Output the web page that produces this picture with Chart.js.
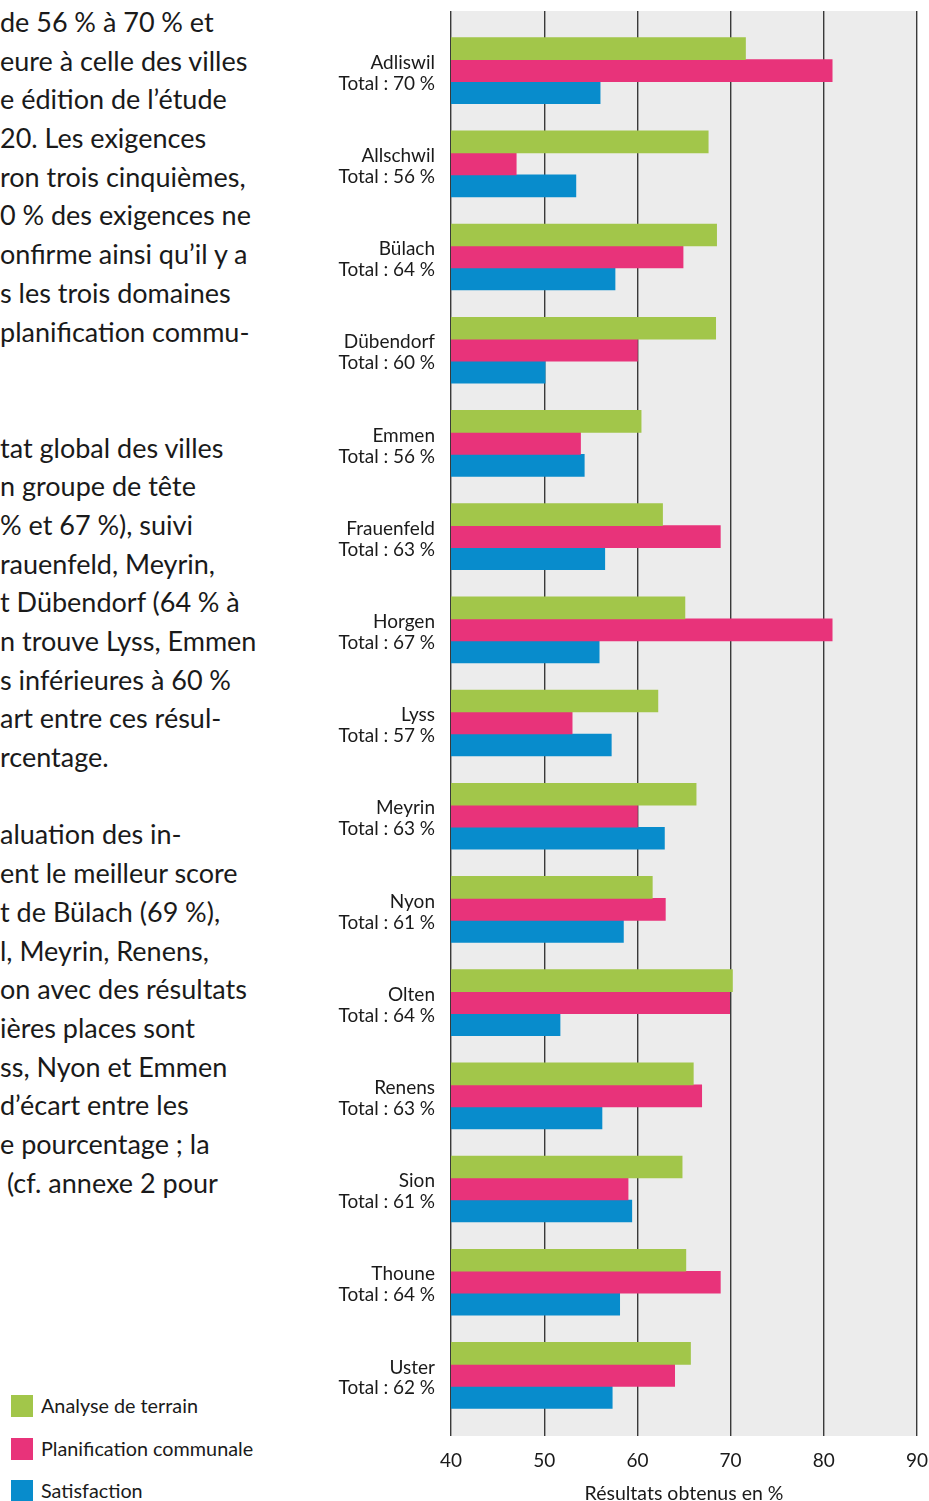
<!DOCTYPE html>
<html lang="fr">
<head>
<meta charset="utf-8">
<script src="https://cdn.jsdelivr.net/npm/chart.js@4/dist/chart.umd.min.js"></script>
<style>
  html, body { margin: 0; padding: 0; background: #fff; }
  body { width: 929px; height: 1501px; position: relative; overflow: hidden; font-family: Lato, "Open Sans", sans-serif; color: #1a1a1a; }
  #text { position: absolute; left: 0; top: 3px; font-size: 27px; line-height: 38.7px; white-space: pre; }
  #text div { height: 38.7px; }
  #legend { position: absolute; left: 11px; top: 1395px; font-size: 19.8px; }
  .item { position: absolute; left: 0; white-space: nowrap; height: 22px; }
  .sw { position: absolute; left: 0; top: 0; width: 22px; height: 22px; }
  .lb { position: absolute; left: 30px; top: -1px; line-height: 22px; }
  #wrap { position: absolute; left: 320px; top: 0; width: 609px; height: 1501px; }
</style>
</head>
<body>
<div id="text"><div>de 56&#8239;% à 70&#8239;% et</div><div>eure à celle des villes</div><div>e édition de l’étude</div><div>20. Les exigences</div><div>ron trois cinquièmes,</div><div>0&#8239;% des exigences ne</div><div>onfirme ainsi qu’il y a</div><div>s les trois domaines</div><div>planification commu-</div><div></div><div></div><div>tat global des villes</div><div>n groupe de tête</div><div>% et 67&#8239;%), suivi</div><div>rauenfeld, Meyrin,</div><div>t Dübendorf (64&#8239;% à</div><div>n trouve Lyss, Emmen</div><div>s inférieures à 60&#8239;%</div><div>art entre ces résul-</div><div>rcentage.</div><div></div><div>aluation des in-</div><div>ent le meilleur score</div><div>t de Bülach (69&#8239;%),</div><div>l, Meyrin, Renens,</div><div>on avec des résultats</div><div>ières places sont</div><div>ss, Nyon et Emmen</div><div>d’écart entre les</div><div>e pourcentage ; la</div><div> (cf. annexe 2 pour</div></div>
<div id="legend"></div>
<div id="wrap"><canvas id="c" width="609" height="1501"></canvas></div>
<script>
const cities = ["Adliswil","Allschwil","Bülach","Dübendorf","Emmen","Frauenfeld","Horgen","Lyss","Meyrin","Nyon","Olten","Renens","Sion","Thoune","Uster"];
const totals = [70,56,64,60,56,63,67,57,63,61,64,63,61,64,62];
const analyseTerrain = [71.6,67.6,68.5,68.4,60.4,62.7,65.1,62.2,66.3,61.6,70.2,66.0,64.8,65.2,65.7];
const planificationCommunale = [80.9,47.0,64.9,60.0,53.9,68.9,80.9,53.0,60.0,63.0,69.9,66.9,59.0,68.9,64.0];
const satisfaction = [56.0,53.4,57.6,50.1,54.3,56.5,55.9,57.2,62.9,58.5,51.7,56.2,59.4,58.1,57.3];
const seriesNames = ["Analyse de terrain","Planification communale","Satisfaction"];
const xTicks = [40,50,60,70,80,90];
const xTitle = "Résultats obtenus en %";

const colors = ["#a2c64a","#e8337a","#088ccc"];
const seriesValues = [analyseTerrain, planificationCommunale, satisfaction];

// legend (HTML)
const legend = document.getElementById('legend');
seriesNames.forEach((n, i) => {
  const it = document.createElement('div');
  it.className = 'item';
  it.style.top = (i * 42.5) + 'px';
  it.innerHTML = '<span class="sw" style="background:' + colors[i] + '"></span><span class="lb">' + n + '</span>';
  legend.appendChild(it);
});

const NB = '\u202F';
const bgPlugin = {
  id: 'bg',
  beforeDraw(chart) {
    const a = chart.chartArea, ctx = chart.ctx;
    ctx.save();
    ctx.fillStyle = '#ececec';
    ctx.fillRect(a.left, a.top, a.right - a.left, a.bottom - a.top);
    ctx.restore();
  }
};

new Chart(document.getElementById('c'), {
  type: 'bar',
  data: {
    datasets: seriesValues.map((vals, i) => ({
      label: seriesNames[i],
      data: vals.map((v, j) => ({ x: v, y: j })),
      backgroundColor: colors[i],
      borderWidth: 0,
      barThickness: 22
    }))
  },
  options: {
    indexAxis: 'y',
    responsive: false,
    animation: false,
    events: [],
    layout: { autoPadding: false, padding: { top: 11, right: 12, left: 0, bottom: 0 } },
    plugins: { legend: { display: false }, tooltip: { enabled: false } },
    scales: {
      x: {
        type: 'linear',
        position: 'bottom',
        min: xTicks[0],
        max: xTicks[xTicks.length - 1],
        afterBuildTicks: (s) => { s.ticks = xTicks.map(v => ({ value: v })); },
        afterFit: (s) => { s.height = 65; s.paddingLeft = 0; s.paddingRight = 0; },
        grid: { color: '#3a3a3a', lineWidth: 1.4, drawTicks: false },
        border: { display: false },
        ticks: { color: '#1a1a1a', font: { family: 'Lato', size: 19 }, padding: 13 },
        title: { display: true, text: xTitle, color: '#1a1a1a', font: { family: 'Lato', size: 19.5, lineHeight: 1.0 }, padding: { top: 0, bottom: -2 } }
      },
      y: {
        type: 'linear',
        reverse: true,
        offset: false,
        min: -0.64,
        max: 14.65,
        afterBuildTicks: (s) => { s.ticks = cities.map((_, i) => ({ value: i })); },
        afterFit: (s) => { s.width = 131; s.paddingTop = 0; s.paddingBottom = 0; },
        grid: { display: false, drawTicks: false, offset: false },
        border: { display: false },
        ticks: {
          color: '#1a1a1a',
          font: { family: 'Lato', size: 19, lineHeight: 1.1 },
          padding: 16,
          labelOffset: 2.5,
          callback: (v) => [cities[v], 'Total' + NB + ':' + NB + totals[v] + NB + '%']
        }
      }
    }
  },
  plugins: [bgPlugin]
});
</script>
</body>
</html>
